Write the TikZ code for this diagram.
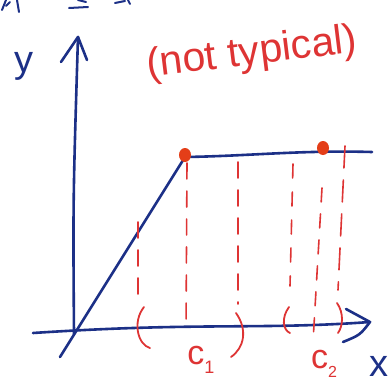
\documentclass[tikz,border=0pt]{standalone}
\usepackage{fontspec}
\setmainfont{Liberation Sans}
\begin{document}
\begin{tikzpicture}[x=1pt,y=-1pt,
  blueink/.style={draw=inkblue,line width=2.6pt,line cap=round,line join=round},
  redink/.style={draw=inkred,line width=1.6pt,line cap=round},
  reddash/.style={redink,dash pattern=on 16pt off 12pt},
  dotmark/.style={fill=dotred,draw=none},
  redlabel/.style={text=inkred,font=\fontsize{34}{38}\selectfont,inner sep=0pt},
  bluelabel/.style={text=inkblue,font=\fontsize{38}{42}\selectfont,inner sep=0pt}]
\definecolor{inkblue}{RGB}{28,48,135}
\definecolor{inkred}{RGB}{222,52,52}
\definecolor{dotred}{RGB}{228,62,24}
\useasboundingbox (0,0) rectangle (391,383);
\fill[white] (0,0) rectangle (391,383);
% cut-off fragments at top
\draw[blueink,line width=2pt] (2,10) -- (6,0) (6,6) -- (10,2) (17,0) -- (19,12);
\draw[blueink,line width=2pt] (69,8) -- (88,7) (78,0) -- (86,2);
\draw[blueink,line width=2pt] (115,3) -- (125,1) (128,0) -- (130,4);
% coordinates
\coordinate (O) at (76,330);
\coordinate (K) at (185,157);
\coordinate (E) at (372,152);
\coordinate (Ytop) at (78,37);
\coordinate (Xend) at (370,322);
% axes
\draw[blueink] (74,334) .. controls (73,200) .. (Ytop);
\draw[blueink] (61,62) -- (Ytop) -- (87,60);
\draw[blueink] (33,333) .. controls (200,322) and (260,330) .. (Xend);
\draw[blueink] (346,309) -- (Xend) .. controls (360,335) .. (343,342);
% graph
\draw[blueink] (60,357) -- (K);
\draw[blueink] (K) .. controls (250,156) and (300,150) .. (E);
% red dashed verticals
\draw[reddash] (138,222) -- (138,294);
\draw[reddash] (187,163) -- (186,330);
\draw[reddash] (238,162) -- (238,304);
\draw[reddash,dash pattern=on 14pt off 14pt] (293,164) -- (290,286);
\draw[reddash,dash pattern=on 14pt off 12pt] (322,188) -- (313,342);
\draw[reddash,dash pattern=on 22pt off 12pt] (345,146) -- (338,290);
% parentheses
\draw[redink,line width=1.8pt] (144,307) .. controls (132,322) and (138,345) .. (150,348);
\draw[redink,line width=1.8pt] (236,313) .. controls (248,330) and (244,348) .. (231,357);
\draw[redink,line width=1.8pt] (289,307) .. controls (281,318) and (283,330) .. (290,333);
\draw[redink,line width=1.8pt] (337,303) .. controls (344,313) and (343,326) .. (338,333);
% dots
\fill[dotmark] (K) ++(0,-2) ellipse (6pt and 7pt);
\fill[dotmark] (323,148) ellipse (6pt and 7pt);
% labels
\node[bluelabel] (ylab) at (24,66) {y};
\node[bluelabel] (xlab) at (379,366) {x};
\node[redlabel] (c1) at (201,360) {c\raisebox{-9pt}{\fontsize{18}{18}\selectfont 1}};
\node[redlabel] (c2) at (324,364) {c\raisebox{-9pt}{\fontsize{16}{16}\selectfont 2}};
\node[redlabel,font=\fontsize{41}{46}\selectfont,rotate=7] (nt) at (252,54) {(not typical)};
\end{tikzpicture}
\end{document}
